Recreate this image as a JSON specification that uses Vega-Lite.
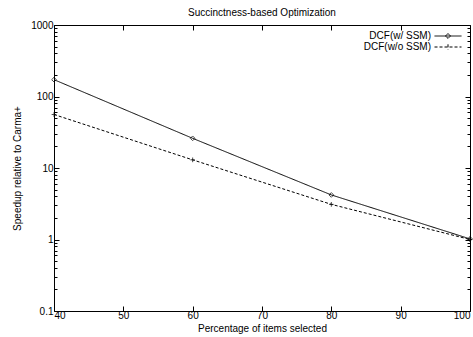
{
  "$schema": "https://vega.github.io/schema/vega-lite/v6.json",
  "autosize": "none",
  "padding": {"left": 54, "top": 25, "right": 3, "bottom": 26},
  "width": 416,
  "height": 286,
  "title": {"text": "Succinctness-based Optimization", "fontSize": 10, "fontWeight": "normal", "font": "Liberation Sans", "color": "black", "offset": 2},
  "config": {
    "view": {"stroke": "black", "strokeWidth": 1},
    "font": "Liberation Sans",
    "axis": {"domain": false, "grid": false, "zindex": 2, "labelFont": "Liberation Sans", "labelFontSize": 10, "labelColor": "black", "titleFont": "Liberation Sans", "titleFontSize": 10, "titleFontWeight": "normal", "titleColor": "black", "tickColor": "black", "tickWidth": 1}
  },
  "data": {"values": [
    {"x": 40, "y": 172, "s": "DCF(w/ SSM)"},
    {"x": 60, "y": 26, "s": "DCF(w/ SSM)"},
    {"x": 80, "y": 4.2, "s": "DCF(w/ SSM)"},
    {"x": 100, "y": 1.02, "s": "DCF(w/ SSM)"},
    {"x": 40, "y": 56, "s": "DCF(w/o SSM)"},
    {"x": 60, "y": 13, "s": "DCF(w/o SSM)"},
    {"x": 80, "y": 3.1, "s": "DCF(w/o SSM)"},
    {"x": 100, "y": 1.0, "s": "DCF(w/o SSM)"}
  ]},
  "resolve": {"axis": {"x": "independent", "y": "independent"}},
  "layer": [
    {
      "mark": {"type": "line", "color": "black", "strokeWidth": 1},
      "encoding": {
        "x": {"field": "x", "type": "quantitative", "scale": {"domain": [40, 100], "nice": false, "zero": false},
              "axis": {"values": [40, 50, 60, 70, 80, 90, 100], "tickSize": -5, "labelPadding": 4, "title": "Percentage of items selected", "titlePadding": 3}},
        "y": {"field": "y", "type": "quantitative", "scale": {"type": "log", "domain": [0.1, 1000], "nice": false},
              "axis": {"values": [0.1,0.2,0.3,0.4,0.5,0.6,0.7,0.8,0.9,1,2,3,4,5,6,7,8,9,10,20,30,40,50,60,70,80,90,100,200,300,400,500,600,700,800,900,1000],
                       "format": "~g",
                       "labelExpr": "abs(log(datum.value)/LN10 - round(log(datum.value)/LN10)) < 1e-6 ? datum.label : ''",
                       "tickSize": {"condition": {"test": "abs(log(datum.value)/LN10 - round(log(datum.value)/LN10)) < 1e-6", "value": -5}, "value": -3},
                       "labelPadding": 6, "title": "Speedup relative to Carma+", "titlePadding": 8}},
        "strokeDash": {"field": "s", "type": "nominal", "scale": {"domain": ["DCF(w/ SSM)", "DCF(w/o SSM)"], "range": [[1, 0], [3, 2]]},
                       "legend": {"title": null, "orient": "top-right", "offset": 6, "symbolSize": 81, "symbolStrokeColor": "black", "symbolStrokeWidth": 1, "symbolOpacity": 1, "symbolFillColor": "transparent", "labelAlign": "right", "labelOffset": -22, "labelFontSize": 10, "labelColor": "black", "labelFont": "Liberation Sans", "rowPadding": 1, "padding": 0}}
      }
    },
    {
      "transform": [{"filter": "datum.s == 'DCF(w/ SSM)'"}],
      "mark": {"type": "point", "shape": "diamond", "filled": false, "color": "black", "strokeWidth": 1, "size": 22},
      "encoding": {
        "x": {"field": "x", "type": "quantitative", "axis": null},
        "y": {"field": "y", "type": "quantitative", "axis": null}
      }
    },
    {
      "transform": [{"filter": "datum.s == 'DCF(w/o SSM)'"}],
      "mark": {"type": "point", "shape": "M-1,0H1M0,-1V1", "filled": false, "color": "black", "strokeWidth": 1, "size": 22},
      "encoding": {
        "x": {"field": "x", "type": "quantitative", "axis": null},
        "y": {"field": "y", "type": "quantitative", "axis": null}
      }
    },
    {
      "mark": {"type": "point", "opacity": 0, "filled": false},
      "encoding": {
        "x": {"field": "x", "type": "quantitative",
              "axis": {"orient": "top", "values": [40, 50, 60, 70, 80, 90, 100], "tickSize": -5, "labels": false, "title": null}},
        "y": {"field": "y", "type": "quantitative",
              "axis": {"orient": "right", "values": [0.1,0.2,0.3,0.4,0.5,0.6,0.7,0.8,0.9,1,2,3,4,5,6,7,8,9,10,20,30,40,50,60,70,80,90,100,200,300,400,500,600,700,800,900,1000],
                       "tickSize": {"condition": {"test": "abs(log(datum.value)/LN10 - round(log(datum.value)/LN10)) < 1e-6", "value": -5}, "value": -3},
                       "labels": false, "title": null}},
        "shape": {"field": "s", "type": "nominal",
                  "scale": {"domain": ["DCF(w/ SSM)", "DCF(w/o SSM)"], "range": ["M-3,0H3M0,-0.55L0.55,0L0,0.55L-0.55,0Z", "M-3,0H3M0,-0.6V0.6"]},
                  "legend": {"title": null, "orient": "top-right", "offset": 6, "symbolSize": 81, "symbolStrokeColor": "black", "symbolStrokeWidth": 1, "symbolOpacity": 1, "symbolFillColor": "transparent", "labelAlign": "right", "labelOffset": -22, "labelFontSize": 10, "labelColor": "black", "labelFont": "Liberation Sans", "rowPadding": 1, "padding": 0}}
      }
    }
  ]
}
